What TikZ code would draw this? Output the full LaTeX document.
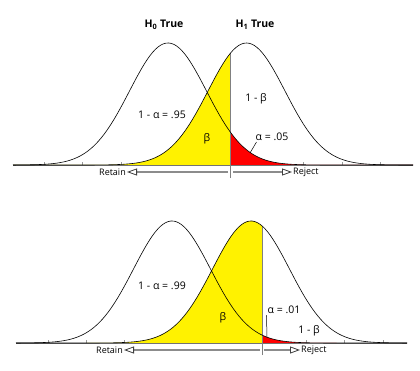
\documentclass[tikz,border=0pt]{standalone}
\usepackage{fontspec}
\setmainfont{Open Sans}
\usetikzlibrary{arrows.meta}

\begin{document}
\begin{tikzpicture}[x=1pt,y=1pt,
		declare function={g(\x,\m)=122*exp(-((\x-\m)/38.5)^2/2);},
		curve/.style={black,line width=0.6pt,samples=150},
		axisline/.style={black!55,line width=0.8pt},
		tick/.style={black!40,line width=0.6pt},
		critline/.style={black!50,line width=0.7pt},
		decide/.style={black!45,line width=1.6pt,shorten >=1pt,
			-{Triangle[open,length=10pt,width=7pt,color=black!75,line width=0.8pt]}},
		lab/.style={font=\fontsize{10.5}{12}\selectfont,inner sep=0pt},
		side/.style={font=\fontsize{9}{10}\selectfont,inner sep=0pt},
		ttl/.style={font=\fontsize{10.5}{12}\selectfont\bfseries,inner sep=0pt}]
	\useasboundingbox (0,0) rectangle (420,370);
	
	% top panel: alpha = .05
	\begin{scope}[shift={(0,205)}]
		\coordinate (L1) at (13,0);
		\coordinate (R1) at (413,0);
		\coordinate (cut1) at (230.5,0);
		
		\fill[yellow] (L1) -- plot[domain=13:230.5,samples=100] ({\x},{g(\x,246.5)}) -- (cut1) -- cycle;
		\fill[red] (cut1) -- plot[domain=230.5:413,samples=100] ({\x},{g(\x,168)}) -- (R1) -- cycle;
		
		\draw[axisline] (L1) -- (R1);
		\foreach \t in {44,82,121,303,342,380}{
			\draw[tick] (\t,0) -- (\t,3);}
		
		\draw[critline] (230.5,-13) -- (230.5,{g(230.5,246.5)});
		\draw[curve] plot[domain=13:413] ({\x},{g(\x,168)});
		\draw[curve] plot[domain=13:413] ({\x},{g(\x,246.5)});
		
		\node[ttl] (h0) at (164,140) {H\textsubscript{0} True};
		\node[ttl] (h1) at (255,140) {H\textsubscript{1} True};
		\node[lab] (keep1) at (162,50) {1 - α = .95};
		\node[lab] (power1) at (256,66) {1 - β};
		\node[lab] (beta1) at (207,26) {β};
		\node[lab] (alpha1) at (272,28) {α = .05};
		\coordinate (tail1) at (250,12);
		\draw[black,line width=0.5pt] (alpha1.south west) ++(1,-1) -- (tail1);
		
		\node[side,anchor=east] (retain1) at (126,-7) {Retain};
		\node[side,anchor=west] (reject1) at (293,-7) {Reject};
		\coordinate (cl1) at (228,-7);
		\coordinate (cr1) at (233,-7);
		\draw[decide] (cl1) -- (retain1.east);
		\draw[decide] (cr1) -- (reject1.west);
	\end{scope}
	
	% bottom panel: alpha = .01
	\begin{scope}[shift={(0,27)}]
		\coordinate (L2) at (16,0);
		\coordinate (R2) at (407,0);
		\coordinate (cut2) at (262,0);
		
		\fill[yellow] (L2) -- plot[domain=16:262,samples=100] ({\x},{g(\x,251)}) -- (cut2) -- cycle;
		\fill[red] (cut2) -- plot[domain=262:407,samples=100] ({\x},{g(\x,172)}) -- (R2) -- cycle;
		
		\draw[axisline] (L2) -- (R2);
		\foreach \t in {48,86,124,306,344,383}{
			\draw[tick] (\t,0) -- (\t,3);}
		
		\draw[critline] (262,-12) -- (262,{g(262,251)});
		\draw[curve] plot[domain=16:407] ({\x},{g(\x,172)});
		\draw[curve] plot[domain=16:407] ({\x},{g(\x,251)});
		
		\node[lab] (keep2) at (162,57) {1 - α = .99};
		\node[lab] (beta2) at (223,25) {β};
		\node[lab] (alpha2) at (284,33) {α = .01};
		\node[lab] (power2) at (309,12) {1 - β};
		\coordinate (tail2) at (267,6);
		\draw[black,line width=0.5pt] (alpha2.south west) ++(-1,-1) -- (tail2);
		
		\node[side,anchor=east] (retain2) at (123,-7) {Retain};
		\node[side,anchor=west] (reject2) at (301,-7) {Reject};
		\coordinate (cl2) at (260,-7);
		\coordinate (cr2) at (264,-7);
		\draw[decide] (cl2) -- (retain2.east);
		\draw[decide] (cr2) -- (reject2.west);
	\end{scope}
\end{tikzpicture}
\end{document}
